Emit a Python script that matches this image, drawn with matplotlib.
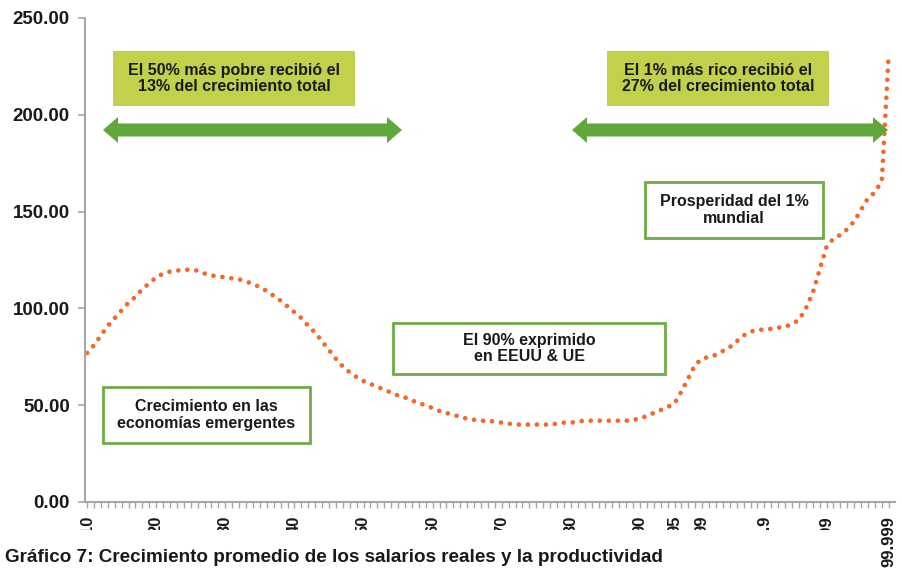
import matplotlib
matplotlib.use("Agg")
import matplotlib.pyplot as plt
from matplotlib.patches import Rectangle, Polygon

plt.rcParams["font.family"] = ["Liberation Sans", "DejaVu Sans"]

# --- DATA ---
# percentile categories: 10..99 by 1, then 99.1..99.9, 99.91..99.99, 99.991..99.999
percentiles = [str(p) for p in range(10, 100)]
percentiles += ["99." + str(d) for d in range(1, 10)]
percentiles += ["99.9" + str(d) for d in range(1, 10)]
percentiles += ["99.99" + str(d) for d in range(1, 10)]

growth = [
    77, 81, 86, 91, 95, 99, 103, 106, 110, 113,
    116, 118, 119, 119.5, 120, 120, 119.5, 118, 117, 116.5,
    116, 115.5, 115, 114, 112.5, 111, 109, 106.5, 104, 101,
    98, 95, 91, 87.5, 83, 78.5, 74, 70, 67, 64.5,
    62.5, 61, 59.5, 58, 56.5, 55, 54, 52.5, 51, 50,
    48.5, 47, 46, 45, 44, 43, 42.5, 42, 42, 41.5,
    41, 40.5, 40, 40, 40, 40, 40, 40, 40.5, 41,
    41, 41.5, 42, 42, 42, 42, 42, 42, 42, 42.5,
    43, 44.5, 46, 47.5, 49, 51, 57, 64, 71, 74,
    75, 76, 78, 80, 83, 86, 88, 89, 89, 89.5,
    90, 90.5, 92, 94, 100, 108, 120, 132, 136, 138,
    141, 145, 151, 157, 160, 166, 232,
]

shown_labels = ["10", "20", "30", "40", "50", "60", "70", "80", "90", "95",
                "99", "99.9", "99.99", "99.999"]
y_ticks = [0, 50, 100, 150, 200, 250]

caption = "Gráfico 7: Crecimiento promedio de los salarios reales y la productividad"

# --- STYLE ---
W, H = 902, 571
orange = "#F26A2B"
green = "#61A83A"
box_green = "#6CAD45"
lime = "#C2D04B"
gray = "#A6A6A6"


def fx(x):
    return x / W


def fy(y):
    return 1 - y / H


fig = plt.figure(figsize=(W / 100, H / 100), dpi=100)
ax = fig.add_axes([fx(85), fy(502), fx(895) - fx(85), fy(18) - fy(502)])

x = list(range(len(percentiles)))
ax.plot(x, growth, color=orange, lw=3.4, linestyle=(0, (0.01, 1.9)),
        dash_capstyle="round", solid_capstyle="round")

ax.set_xlim(-0.3, len(percentiles) - 0.1)
ax.set_ylim(0, 250)

for s in ["top", "right"]:
    ax.spines[s].set_visible(False)
for s in ["left", "bottom"]:
    ax.spines[s].set_color(gray)
    ax.spines[s].set_linewidth(1.5)

ax.set_yticks(y_ticks)
ax.set_yticklabels([f"{v:.2f}" for v in y_ticks], fontsize=13.5,
                   fontweight="bold", color="#1a1a1a")
ax.tick_params(axis="y", length=5, width=1.2, color=gray, pad=6)

label_pos = [percentiles.index(l) for l in shown_labels]
ax.set_xticks(label_pos)
ax.set_xticklabels(shown_labels, rotation=90, fontsize=12,
                   fontweight="bold", color="#1a1a1a")
ax.set_xticks(x, minor=True)
ax.tick_params(axis="x", which="both", length=4, width=1.0, color=gray, pad=6)

# --- ANNOTATIONS (figure pixel coordinates) ---
def box(x0, y0, x1, y1, text, fill, edge):
    fig.add_artist(Rectangle((fx(x0), fy(y1)), fx(x1) - fx(x0), fy(y0) - fy(y1),
                             transform=fig.transFigure, facecolor=fill,
                             edgecolor=edge, lw=2 if edge != "none" else 0))
    fig.text(fx((x0 + x1) / 2), fy((y0 + y1) / 2), text, ha="center",
             va="center", fontsize=11.5, fontweight="bold", color="#1a1a1a",
             linespacing=1.15)


def darrow(x0, x1, yc, body=6.5, head=13, hl=15):
    pts = [(x0, yc), (x0 + hl, yc - head), (x0 + hl, yc - body),
           (x1 - hl, yc - body), (x1 - hl, yc - head), (x1, yc),
           (x1 - hl, yc + head), (x1 - hl, yc + body), (x0 + hl, yc + body),
           (x0 + hl, yc + head)]
    fig.add_artist(Polygon([(fx(a), fy(b)) for a, b in pts], closed=True,
                           transform=fig.transFigure, facecolor=green,
                           edgecolor="none"))


box(113, 51, 355, 106, "El 50% más pobre recibió el\n13% del crecimiento total",
    lime, "none")
box(607, 51, 829, 106, "El 1% más rico recibió el\n27% del crecimiento total",
    lime, "none")
darrow(103, 402, 130)
darrow(572, 888, 130)
box(645, 182, 823, 238, "Prosperidad del 1%\nmundial", "white", box_green)
box(393, 323, 665, 374, "El 90% exprimido\nen EEUU & UE", "white", box_green)
box(103, 387, 310, 443, "Crecimiento en las\neconomías emergentes", "white",
    box_green)

# white strip that hides the lower part of the tick labels, as in the source
fig.add_artist(Rectangle((0, 0), fx(876), fy(530),
                         transform=fig.transFigure, facecolor="white",
                         edgecolor="none", zorder=5))
fig.text(fx(5), fy(558), caption, ha="left", va="center", fontsize=13.6,
         fontweight="bold", color="#1a1a1a", zorder=6)

fig.savefig("out.png", dpi=100)
